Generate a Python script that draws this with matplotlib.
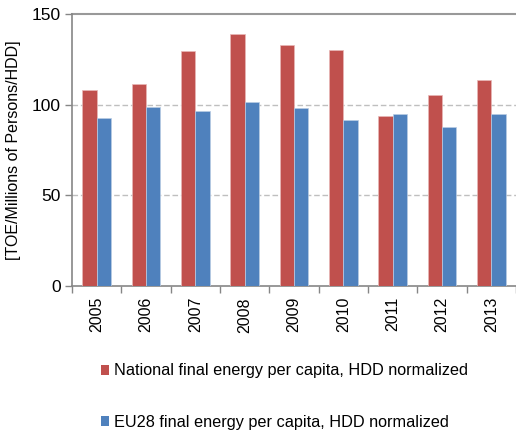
import matplotlib
matplotlib.use("Agg")
import matplotlib.pyplot as plt
import numpy as np
from matplotlib.patches import Patch

years = ["2005", "2006", "2007", "2008", "2009", "2010", "2011", "2012", "2013"]
national = [108.1, 111.4, 129.4, 138.8, 132.9, 130.1, 93.9, 105.3, 113.4]
eu28 = [92.6, 98.7, 96.7, 101.5, 98.0, 91.4, 94.7, 87.9, 94.7]
labels = ["National final energy per capita, HDD normalized",
          "EU28 final energy per capita, HDD normalized"]
colors = ["#C0504D", "#4F81BD"]

plt.rcParams['font.family'] = ['Liberation Sans', 'DejaVu Sans']

fig = plt.figure(figsize=(5.16, 4.32), dpi=100)
ax = fig.add_axes([72/516, 1-286/432, 1-72/516, 272/432])

x = np.arange(len(years))
w = 0.29
ax.bar(x - w/2, national, w, color=colors[0], edgecolor="#E8B8B7", linewidth=0.5, zorder=3)
ax.bar(x + w/2, eu28, w, color=colors[1], edgecolor="#B9CCE4", linewidth=0.5, zorder=3)

ax.set_ylim(0, 150)
ax.set_yticks([0, 50, 100, 150])
ax.set_xlim(-0.5, 8 + 17/50.25)
for v in [50, 100]:
    ax.axhline(v, color="#BFBFBF", linestyle=(0, (4, 2)), linewidth=1, zorder=1)
ax.axhline(150, color="#999999", linestyle="-", linewidth=1.5, zorder=1, clip_on=False)

for s in ["top", "right"]:
    ax.spines[s].set_visible(False)
ax.spines["left"].set_color("#868686")
ax.spines["bottom"].set_color("#868686")
ax.spines["left"].set_linewidth(1.2)
ax.spines["bottom"].set_linewidth(1.2)

ax.set_xticks(x)
ax.set_xticklabels(years, rotation=90, fontsize=11.5)
ax.tick_params(axis="x", length=0, pad=8)
ax.set_xticks(np.arange(-0.5, 9, 1), minor=True)
ax.tick_params(axis="x", which="minor", length=5, color="#868686", width=1)
ax.tick_params(axis="y", length=5, color="#868686", width=1, labelsize=12.5, direction="out", pad=3)

ax.set_ylabel("[TOE/Millions of Persons/HDD]", fontsize=11.5, labelpad=8)

handles = [Patch(facecolor=colors[0]), Patch(facecolor=colors[1])]
fig.legend(handles, labels, loc="upper left", bbox_to_anchor=(94/516, 1-357/432),
           frameon=False, fontsize=11.7, handlelength=0.55, handleheight=0.55,
           handletextpad=0.3, labelspacing=2.25, borderaxespad=0)

fig.savefig("out.png", dpi=100)
